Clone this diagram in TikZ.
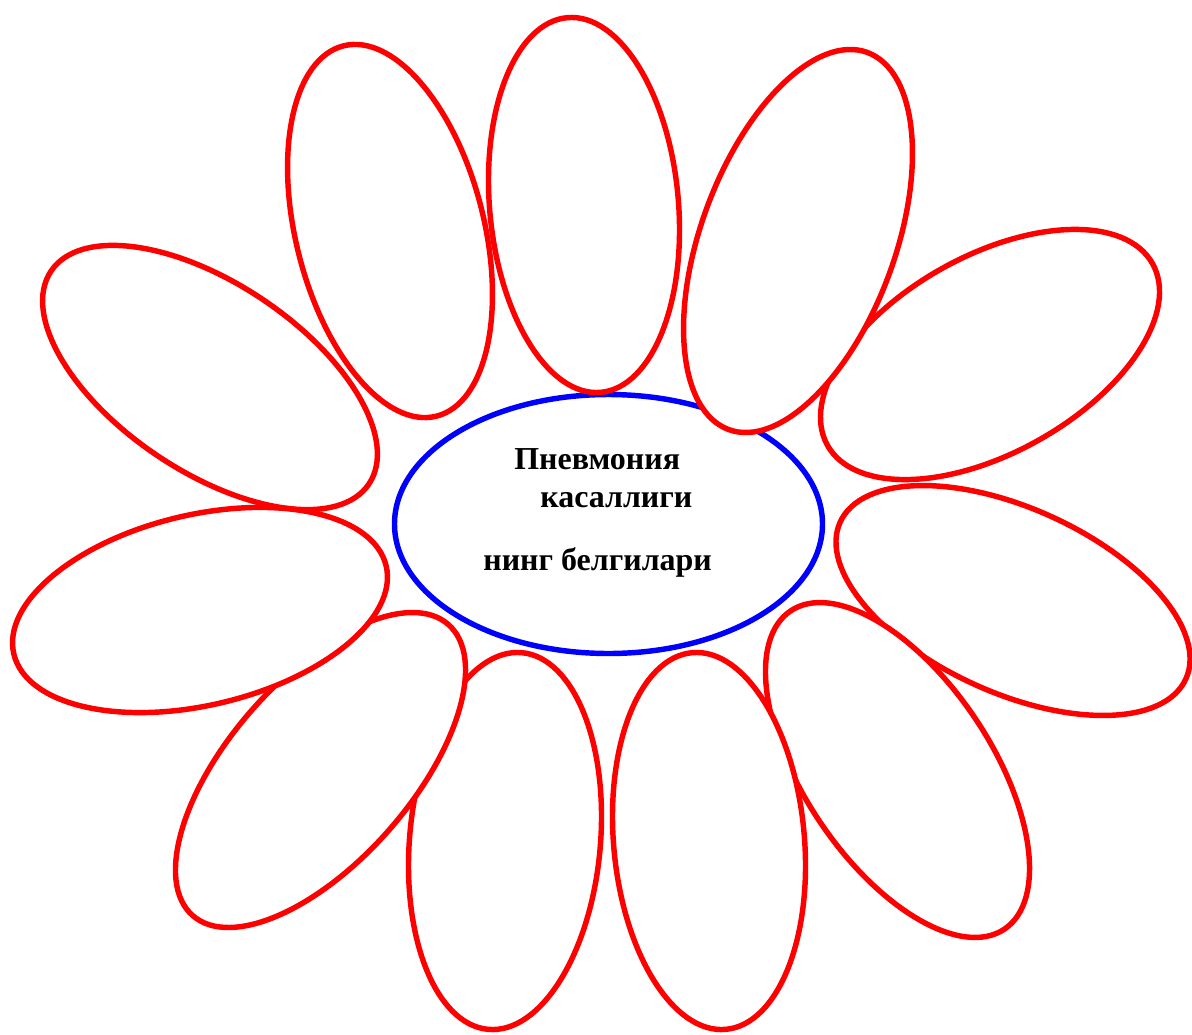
\documentclass[tikz,border=0pt]{standalone}
\usepackage{fontspec}
\setmainfont{Liberation Serif}
\begin{document}
\begin{tikzpicture}[x=0.02cm,y=-0.02cm,
  petal/.style={draw=red, fill=white, line width=3.1pt},
  core/.style={draw=blue, fill=white, line width=3.1pt},
  lbl/.style={font=\bfseries\fontsize{18.2}{20}\selectfont, anchor=base west, inner sep=0pt}]
\useasboundingbox (0,0) rectangle (1192,1034);
% centre
\path[core] (608.5,524) ellipse [x radius=214, y radius=129.5];
\node[lbl] (t1) at (514,469) {Пневмония};
\node[lbl] (t2) at (540,507) {касаллиги};
\node[lbl] (t3) at (483,570) {нинг белгилари};
% petals (back to front)
\draw[petal, shift={(390,231)}, rotate=104.1] (0,0) ellipse [x radius=190.9, y radius=94.1];   % top-left
\draw[petal, shift={(210,377.5)}, rotate=-33.8] (0,0) ellipse [x radius=191.3, y radius=94.2]; % left-upper
\draw[petal, shift={(505,841)}, rotate=84.9] (0,0) ellipse [x radius=189.1, y radius=95.4];    % bottom-centre-left
\draw[petal, shift={(320.5,770)}, rotate=48.7] (0,0) ellipse [x radius=193.7, y radius=91.1];  % bottom-left
\draw[petal, shift={(200,610)}, rotate=13.3] (0,0) ellipse [x radius=191.3, y radius=95.2];    % left-lower
\draw[petal, shift={(584,205)}, rotate=95.1] (0,0) ellipse [x radius=188.1, y radius=94.4];    % top-centre
\draw[petal, shift={(990,354.5)}, rotate=29.2] (0,0) ellipse [x radius=186.2, y radius=98.5];  % right-upper
\draw[petal, shift={(798,241)}, rotate=69.8] (0,0) ellipse [x radius=200.9, y radius=97.0];    % top-right
\draw[petal, shift={(1013,600.5)}, rotate=-24.4] (0,0) ellipse [x radius=189.8, y radius=92.3];% right-lower
\draw[petal, shift={(897.5,770)}, rotate=123.9] (0,0) ellipse [x radius=191.7, y radius=93.3]; % bottom-right
\draw[petal, shift={(709,841)}, rotate=95.1] (0,0) ellipse [x radius=189.1, y radius=95.4];    % bottom-centre-right
\end{tikzpicture}
\end{document}
